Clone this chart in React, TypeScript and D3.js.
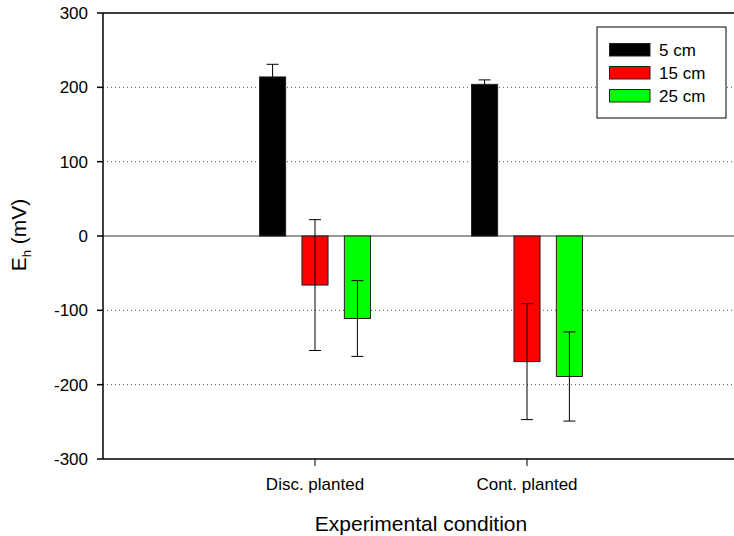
import React from "react";
import * as d3 from "d3";

const categories = ["Disc. planted", "Cont. planted"];
const depths = ["5 cm", "15 cm", "25 cm"];
const colors = ["#000000", "#ff0000", "#00ff00"];
// mean Eh (mV) per depth, one entry per condition
const eh5 = [214, 204];
const eh15 = [-66, -169];
const eh25 = [-111, -189];
// error bar half-widths (mV)
const err5 = [17, 6];
const err15 = [88, 78];
const err25 = [51, 60];
const yTicks = [-300, -200, -100, 0, 100, 200, 300];

const W = 734;
const H = 536;
const left = 103;
const right = 739;
const top = 13;
const bottom = 459;

export default function App() {
  const x = d3.scaleLinear().domain([0, 3]).range([left, right]);
  const y = d3.scaleLinear().domain([-300, 300]).range([bottom, top]);
  const means = [eh5, eh15, eh25];
  const errs = [err5, err15, err25];
  const offsets = [-0.2, 0, 0.2];
  const barW = x(0.123) - x(0);
  const capW = 12;
  const font = "Liberation Sans, Arial, sans-serif";

  return (
    <svg
      width={W}
      height={H}
      style={{ position: "absolute", left: 0, top: 0, background: "#fff" }}
      fontFamily={font}
    >
      {/* dotted gridlines */}
      {yTicks
        .filter((t) => t !== 0 && Math.abs(t) !== 300)
        .map((t) => (
          <line
            key={t}
            x1={left}
            x2={right}
            y1={y(t)}
            y2={y(t)}
            stroke="#555"
            strokeWidth={1}
            strokeDasharray="1,3"
          />
        ))}
      {/* zero line */}
      <line x1={left} x2={right} y1={y(0)} y2={y(0)} stroke="#333" strokeWidth={1} />

      {/* bars */}
      {means.map((series, si) =>
        series.map((v, ci) => {
          const cx = x(ci + 1 + offsets[si]);
          const y0 = y(Math.max(0, v));
          const h = Math.abs(y(v) - y(0));
          return (
            <rect
              key={`b${si}-${ci}`}
              x={cx - barW / 2}
              y={y0}
              width={barW}
              height={h}
              fill={colors[si]}
              stroke="#222"
              strokeWidth={1}
            />
          );
        })
      )}

      {/* error bars */}
      {means.map((series, si) =>
        series.map((v, ci) => {
          const cx = x(ci + 1 + offsets[si]);
          const e = errs[si][ci];
          return (
            <g key={`e${si}-${ci}`} stroke="#000" strokeWidth={1}>
              <line x1={cx} x2={cx} y1={y(v + e)} y2={y(v - e)} />
              <line x1={cx - capW / 2} x2={cx + capW / 2} y1={y(v + e)} y2={y(v + e)} />
              <line x1={cx - capW / 2} x2={cx + capW / 2} y1={y(v - e)} y2={y(v - e)} />
            </g>
          );
        })
      )}

      {/* frame */}
      <line x1={left} x2={right} y1={top} y2={top} stroke="#000" strokeWidth={1.5} />
      <line x1={left} x2={left} y1={top} y2={bottom} stroke="#000" strokeWidth={1.5} />
      <line x1={left} x2={right} y1={bottom} y2={bottom} stroke="#000" strokeWidth={1.5} />

      {/* y axis ticks */}
      {yTicks.map((t) => (
        <g key={`yt${t}`}>
          <line x1={left - 6} x2={left} y1={y(t)} y2={y(t)} stroke="#000" strokeWidth={1.5} />
          <text
            x={left - 15}
            y={y(t)}
            dy="0.35em"
            textAnchor="end"
            fontSize={17}
            fill="#000"
          >
            {t}
          </text>
        </g>
      ))}

      {/* x axis ticks */}
      {categories.map((c, i) => (
        <g key={c}>
          <line x1={x(i + 1)} x2={x(i + 1)} y1={bottom} y2={bottom + 7} stroke="#000" strokeWidth={1} />
          <text x={x(i + 1)} y={490} textAnchor="middle" fontSize={17} fill="#000">
            {c}
          </text>
        </g>
      ))}

      {/* axis titles */}
      <text
        x={(left + right) / 2}
        y={531}
        textAnchor="middle"
        fontSize={21}
        fill="#000"
      >
        Experimental condition
      </text>
      <text
        transform={`translate(26, 235) rotate(-90)`}
        textAnchor="middle"
        fontSize={21}
        fill="#000"
      >
        E<tspan fontSize={13} dy={5}>h</tspan>
        <tspan dy={-5}> (mV)</tspan>
      </text>

      {/* legend */}
      <rect x={597} y={27} width={129} height={91} fill="#fff" stroke="#000" strokeWidth={1} />
      {depths.map((d, i) => (
        <g key={d}>
          <rect
            x={609.5}
            y={43.5 + i * 23}
            width={40.5}
            height={12.5}
            fill={colors[i]}
            stroke="#222"
            strokeWidth={1}
          />
          <text x={659} y={56 + i * 23} fontSize={17} fill="#000">
            {d}
          </text>
        </g>
      ))}
    </svg>
  );
}
